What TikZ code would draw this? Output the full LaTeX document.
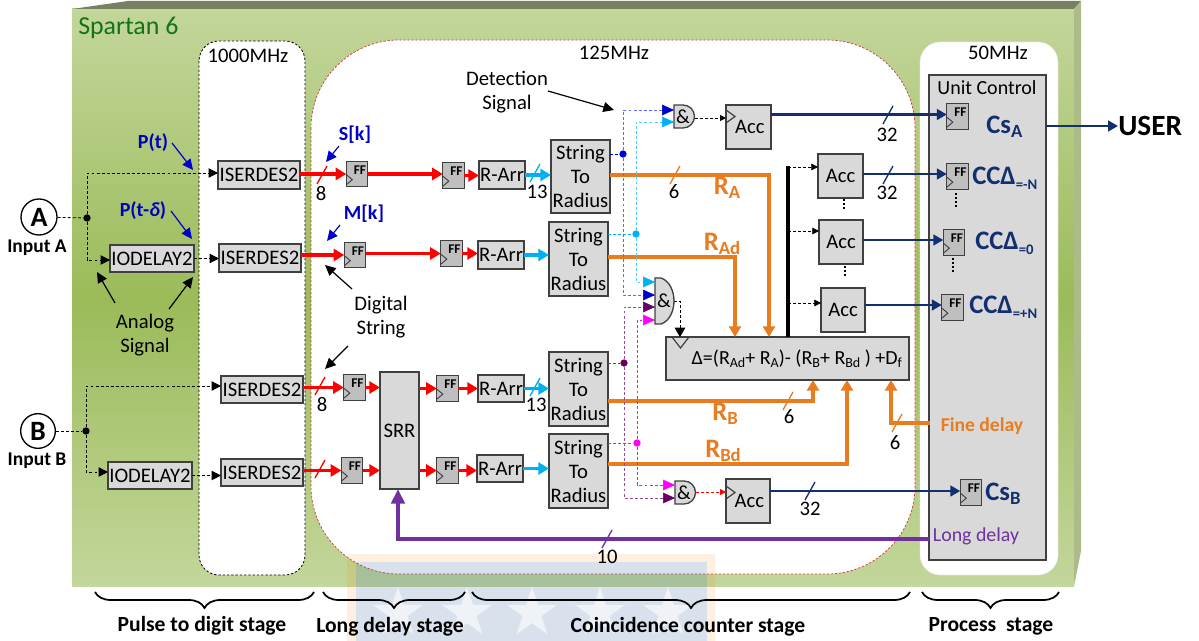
\documentclass[tikz,border=0pt]{standalone}
\usepackage{fontspec}
\setmainfont{Carlito}
\usetikzlibrary{arrows.meta,decorations.pathreplacing,shapes.geometric}
\definecolor{navyw}{HTML}{12306F}
\definecolor{orw}{HTML}{E97B20}
\definecolor{purw}{HTML}{7030A0}
\definecolor{cyw}{HTML}{00B0F0}
\definecolor{grn}{HTML}{9BBB59}
\definecolor{lgrn}{HTML}{C3D69B}
\definecolor{blu}{HTML}{0000CC}
\definecolor{pdot}{HTML}{660066}
\definecolor{mag}{HTML}{FF00FF}
\definecolor{bdr}{HTML}{404040}
\definecolor{wmb}{HTML}{416EA0}
\newcommand\fs[1]{\fontsize{#1}{#1}\selectfont}
\newcommand\sbt[2]{\raisebox{-#1pt}{#2}}
\tikzset{
  box/.style={draw=bdr,fill=gray!30,line width=1.1pt,inner sep=0pt,outer sep=0pt,align=center,font=\fontsize{15.5}{18}\selectfont},
  ffb/.style={draw=bdr,fill=gray!50,line width=0.9pt,inner sep=0pt,outer sep=0pt,minimum width=16pt,minimum height=19pt},
  fft/.style={inner sep=0pt,font=\bfseries\fontsize{10}{10}\selectfont,text=black},
  txt/.style={inner sep=0pt,align=center,font=\fontsize{15.5}{18}\selectfont},
  stg/.style={inner sep=0pt,font=\bfseries\fontsize{16.2}{18}\selectfont},
  bluetxt/.style={inner sep=0pt,text=blue!75!black,font=\bfseries\fontsize{15}{17}\selectfont},
  lab/.style={inner sep=0pt,font=\bfseries\fontsize{20}{22}\selectfont,text=orw},
  nav/.style={inner sep=0pt,anchor=west,font=\bfseries\fontsize{20}{22}\selectfont,text=navyw},
  num/.style={inner sep=0pt,font=\fontsize{15.5}{17}\selectfont},
  redw/.style={draw=red,line width=2.8pt,-{Triangle[length=8pt,width=9pt]}},
  cyanw/.style={draw=cyw,line width=2.8pt,-{Triangle[length=8pt,width=9pt]}},
  orng/.style={draw=orw,line width=2.6pt,line join=miter},
  orngarr/.style={orng,-{Triangle[length=8pt,width=9pt]}},
  navw/.style={draw=navyw,line width=2.1pt,-{Triangle[length=7.5pt,width=8pt]}},
  dsh/.style={line width=0.6pt,dash pattern=on 2.2pt off 1.6pt},
  darr/.style={dsh,-{Triangle[length=7pt,width=7pt]}},
  sarr/.style={line width=0.9pt,-{Triangle[length=8pt,width=7.5pt]}},
  dot/.style={circle,inner sep=0pt,minimum size=5.5pt,draw=none},
  slash/.style={line width=1pt},
  brc/.style={draw=black,line width=1.3pt,decorate,decoration={brace,mirror,amplitude=12pt,aspect=0.5}},
  andg/.style={draw=bdr,fill=gray!30,line width=1pt},
  clk/.style={draw=bdr,line width=0.7pt},
  vdots/.style={draw=black,line width=1.3pt,dash pattern=on 1.2pt off 1.9pt},
}
\newcommand\bx[6]{\node[box,minimum width={(#4-#2)*0.75pt},minimum height={(#5-#3)*0.75pt}] (#1) at ({(#2+#4)/2},{(#3+#5)/2}) {#6};}
\newcommand\ffx[3]{\node[ffb] (#1) at (#2,#3) {};
  \node[fft,xshift=2.2pt,yshift=3pt] (#1t) at (#1) {FF};
  \draw[clk] ([shift={(0,-12)}]#1.south west) -- ++(6,5) -- ++(-6,5);}
\newcommand\slsh[1]{\draw[slash] ([shift={(-5,9)}]#1) -- ([shift={(5,-9)}]#1);}
\begin{document}
\begin{tikzpicture}[x=0.75pt,y=-0.75pt]
\useasboundingbox (0,0) rectangle (1199,641);
% board
\fill[white] (0,0) rectangle (1199,641);
\shade[top color=lgrn,bottom color=grn] (72,9) rectangle (1074,300);
\shade[top color=grn,bottom color=lgrn] (72,299.5) rectangle (1074,586);
\fill[fill={rgb,255:red,119;green,128;blue,95}] (72,9) -- (128,1) -- (1081,1) -- (1074,9) -- cycle;
\fill[fill={rgb,255:red,173;green,187;blue,137}] (1074,9) -- (1081,1) -- (1081,551) -- (1074,586) -- cycle;
% panels
\draw[black,fill=white,line width=0.6pt,dash pattern=on 1.8pt off 1.4pt,rounded corners=15pt] (199,41) rectangle (305,575);
\draw[red!60!gray,fill=white,line width=0.5pt,dash pattern=on 1.8pt off 1.2pt,rounded corners=66pt] (311,40) rectangle (915,574);
\draw[white!90!black,fill=white,line width=0.5pt,dash pattern=on 1.8pt off 1.2pt,rounded corners=15pt] (920,42) rectangle (1058,575);
% watermark
\fill[orange,opacity=0.12,even odd rule] (347,554) rectangle (715,641) (356,562) rectangle (707,641);
\fill[wmb,opacity=0.20] (356,562) rectangle (707,641);
\foreach \sx in {398,467,532,600,668}{\node[star,star points=5,star point ratio=2.6,fill=white,opacity=0.6,minimum size=39pt,inner sep=0pt] at (\sx,613) {};}
% titles
\node[inner sep=0pt,anchor=west,text={rgb,255:red,20;green,115;blue,20},font=\fontsize{19.4}{22}\selectfont] (spartan) at (78,28) {Spartan 6};
\node[txt] (f1) at (248,56) {1000MHz};
\node[txt] (f2) at (614,53) {125MHz};
\node[txt] (f3) at (998,53) {50MHz};
% inputs
\node[circle,draw=black,line width=1pt,minimum size=27pt,inner sep=0pt,font=\bfseries\fontsize{21}{22}\selectfont,fill=white] (ina) at (39,217) {A};
\node[circle,draw=black,line width=1pt,minimum size=26pt,inner sep=0pt,font=\bfseries\fontsize{21}{22}\selectfont,fill=white] (inb) at (38,431) {B};
\node[inner sep=0pt,font=\bfseries\fontsize{14.6}{16}\selectfont] (ila) at (37,248) {Input A};
\node[inner sep=0pt,font=\bfseries\fontsize{14.6}{16}\selectfont] (ilb) at (37,461) {Input B};
% boxes
\bx{is1}{218}{161}{300}{189}{ISERDES2}
\bx{is2}{219}{244}{301}{272}{ISERDES2}
\bx{is3}{221}{376}{303}{403}{ISERDES2}
\bx{is4}{221}{459}{303}{486}{ISERDES2}
\bx{io1}{110}{245}{194}{272}{IODELAY2}
\bx{io2}{108}{462}{192}{489}{IODELAY2}
\bx{ra1}{479}{161}{525}{189}{R-Arr}
\bx{ra2}{478}{241}{524}{269}{R-Arr}
\bx{ra3}{478}{375}{524}{402}{R-Arr}
\bx{ra4}{477}{455}{523}{482}{R-Arr}
\bx{st1}{551}{140}{610}{213}{String\\To\\Radius}
\bx{st2}{549}{222}{608}{296}{String\\To\\Radius}
\bx{st3}{549}{352}{608}{426}{String\\To\\Radius}
\bx{st4}{549}{434}{608}{508}{String\\To\\Radius}
\bx{srr}{380}{372}{419}{489}{SRR}
\bx{ac1}{726}{105}{771}{149}{\raisebox{-5pt}{\hspace{2pt}Acc}}
\bx{ac2}{726}{479}{770}{523}{\raisebox{-5pt}{\hspace{2pt}Acc}}
\bx{ac3}{818}{154}{863}{198}{Acc}
\bx{ac4}{819}{220}{863}{264}{Acc}
\bx{ac5}{821}{288}{865}{332}{Acc}
\bx{dl}{666}{337}{909}{380}{\fs{15}\hspace{14pt}Δ=(R{\fs{10.5}\sbt{2}{Ad}}+ R{\fs{10.5}\sbt{2}{A}})- (R{\fs{10.5}\sbt{2}{B}}+ R{\fs{10.5}\sbt{2}{Bd}} ) +D{\fs{10.5}\sbt{2}{f}}}
\bx{uc}{929}{75}{1046}{560}{}
\node[txt,font=\fontsize{15}{18}\selectfont] (uct) at (987,88) {Unit Control};
% and gates
\draw[andg] (674,105) -- (683,105) arc (-90:90:11.5 and 11.5) -- (674,128) -- cycle;
\node[inner sep=0pt,font=\fontsize{15}{15}\selectfont] (and1) at (683,116.5) {\&};
\draw[andg] (655,278) -- (661,278) .. controls (670,281) and (674,292) .. (674,301) .. controls (674,310) and (670,321) .. (661,324) -- (655,324) -- cycle;
\node[inner sep=0pt,font=\fontsize{15}{15}\selectfont] (and2) at (664,301) {\&};
\draw[andg] (675,481) -- (684,481) arc (-90:90:11.5 and 11.5) -- (675,504) -- cycle;
\node[inner sep=0pt,font=\fontsize{15}{15}\selectfont] (and3) at (684,492.5) {\&};
\coordinate (a1o) at (695,118);
\coordinate (a1i) at (674,110);
\coordinate (a1j) at (674,122);
\coordinate (a2o) at (674,301);
\coordinate (a3o) at (696,492);
% ffs
\ffx{f1a}{357}{174}\ffx{f1b}{355}{255}\ffx{f1c}{354.5}{387.5}\ffx{f1d}{352}{470.5}
\ffx{f2a}{453.5}{175.5}\ffx{f2b}{451.5}{253.5}\ffx{f2c}{447.5}{388.5}\ffx{f2d}{447.5}{470.5}
\ffx{fua}{957.5}{116.5}\ffx{fun}{957.5}{176.5}\ffx{fu0}{954}{242.5}\ffx{fup}{952.5}{307.5}\ffx{fub}{971}{492.5}
% dashed input nets
\node[dot,fill=black] (ja) at (87,218) {};
\node[dot,fill=black] (jb) at (86,431) {};
\coordinate (ja1) at (87,173);\coordinate (ja2) at (87,260);
\coordinate (jb1) at (86,386);\coordinate (jb2) at (86,472);
\draw[dsh] (ina) -- (ja);
\draw[dsh] (inb) -- (jb);
\draw[darr] (ja) -- (ja1) -- (ja1 -| is1.west);
\draw[darr] (ja) -- (ja2) -- (ja2 -| io1.west);
\draw[darr] (jb) -- (jb1) -- (jb1 -| is3.west);
\draw[darr] (jb) -- (jb2) -- (jb2 -| io2.west);
\draw[darr] (io1.east) -- (io1.east -| is2.west);
\draw[darr] (io2.east) -- (io2.east -| is4.west);
% red wires
\draw[redw] (is1.east |- f1a.west) -- (f1a.west);
\draw[redw] (f1a.east) -- (f1a.east -| f2a.west);
\draw[redw] (f2a.east) -- (f2a.east -| ra1.west);
\draw[redw] (is2.east |- f1b.west) -- (f1b.west);
\draw[redw] (f1b.east |- f2b.west) -- (f2b.west);
\draw[redw] (f2b.east) -- (f2b.east -| ra2.west);
\draw[redw] (is3.east |- f1c.west) -- (f1c.west);
\draw[redw] (f1c.east) -- (srr.west |- f1c.east);
\draw[redw] (srr.east |- f2c.west) -- (f2c.west);
\draw[redw] (f2c.east) -- (f2c.east -| ra3.west);
\draw[redw] (is4.east |- f1d.west) -- (f1d.west);
\draw[redw] (f1d.east) -- (srr.west |- f1d.east);
\draw[redw] (srr.east |- f2d.west) -- (f2d.west);
\draw[redw] (f2d.east) -- (f2d.east -| ra4.west);
% cyan
\draw[cyanw] (ra1.east) -- (ra1.east -| st1.west);
\draw[cyanw] (ra2.east) -- (ra2.east -| st2.west);
\draw[cyanw] (ra3.east) -- (ra3.east -| st3.west);
\draw[cyanw] (ra4.east) -- (ra4.east -| st4.west);
% orange
\coordinate (c1) at (769,175);\coordinate (c2) at (735,257);\coordinate (c3) at (813,401);\coordinate (c4) at (847,464);\coordinate (c5) at (891,423);
\draw[orngarr] (c1 -| st1.east) -- (c1) -- (c1 |- dl.north);
\draw[orngarr] (c2 -| st2.east) -- (c2) -- (c2 |- dl.north);
\draw[orngarr] (c3 -| st3.east) -- (c3) -- (c3 |- dl.south);
\draw[orngarr] (c4 -| st4.east) -- (c4) -- (c4 |- dl.south);
\coordinate (fd) at (930,423);
\draw[orngarr] (fd) -- (c5) -- (c5 |- dl.south);
% purple
\coordinate (p1) at (398,539);
\draw[draw=purw,line width=3pt,-{Triangle[length=11pt,width=10pt]}] (uc.west |- p1) -- (p1) -- (srr.south -| p1);
% navy
\coordinate (ny1) at (0,114.5);\coordinate (ny2) at (0,174);\coordinate (ny3) at (0,240);\coordinate (ny4) at (0,305);\coordinate (ny5) at (0,491);
\draw[navw] (ac1.east |- ny1) -- (fua.west |- ny1);
\draw[navw] (ac3.east |- ny2) -- (fun.west |- ny2);
\draw[navw] (ac4.east |- ny3) -- (fu0.west |- ny3);
\draw[navw] (ac5.east |- ny4) -- (fup.west |- ny4);
\draw[navw] (ac2.east |- ny5) -- (fub.west |- ny5);
\node[inner sep=0pt,font=\bfseries\fontsize{22}{24}\selectfont,anchor=west] (user) at (1118,126) {USER};
\draw[navw] (uc.east |- user.west) -- (user.west);
% bus
\coordinate (bs) at (788,166);
\draw[line width=3.5pt,black] (bs) -- (bs |- dl.north);
\coordinate (b3) at (788,167);\coordinate (b4) at (788,231);\coordinate (b5) at (788,303);
\draw[dsh,-{Triangle[length=5pt,width=5pt]}] (b3) -- (b3 -| ac3.west);
\draw[dsh,-{Triangle[length=5pt,width=5pt]}] (b4) -- (b4 -| ac4.west);
\draw[dsh,-{Triangle[length=5pt,width=5pt]}] (b5) -- (b5 -| ac5.west);
% detection nets
\node[dot,fill=blu] (db) at (623,154) {};
\node[dot,fill=cyw] (dc) at (636,234) {};
\node[dot,fill=pdot] (dp) at (624,363) {};
\node[dot,fill=mag] (dm) at (637,443) {};
\draw[dsh,blu] (st1.east |- db) -- (db);
\draw[dsh,cyw] (st2.east |- dc) -- (dc);
\draw[dsh,pdot!80!white] (st3.east |- dp) -- (dp);
\draw[dsh,mag] (st4.east |- dm) -- (dm);
\coordinate (n1) at (623,110);\coordinate (n2) at (623,295);
\coordinate (n3) at (636,122);\coordinate (n4) at (636,282);
\coordinate (n5) at (624,307);\coordinate (n6) at (624,498);
\coordinate (n7) at (637,320);\coordinate (n8) at (637,485);
\coordinate (g1) at (655,282);\coordinate (g2) at (655,295);\coordinate (g3) at (655,307);\coordinate (g4) at (655,320);
\coordinate (g5) at (675,485);\coordinate (g6) at (675,498);
\draw[dsh,blue!60!white] (db) -- (n1) -- (a1i);
\draw[dsh,blue!60!white] (db) -- (n2) -- (g2);
\draw[dsh,cyw!70!white] (dc) -- (n3) -- (a1j);
\draw[dsh,cyw!70!white] (dc) -- (n4) -- (g1);
\draw[dsh,pdot!70!white] (dp) -- (n5) -- (g3);
\draw[dsh,pdot!70!white] (dp) -- (n6) -- (g6);
\draw[dsh,mag] (dm) -- (n7) -- (g4);
\draw[dsh,mag] (dm) -- (n8) -- (g5);
\draw[-{Triangle[length=9pt,width=8pt]},blu] ([xshift=-8pt]a1i) -- (a1i);
\draw[-{Triangle[length=9pt,width=8pt]},cyw] ([xshift=-8pt]a1j) -- (a1j);
\draw[-{Triangle[length=9pt,width=8pt]},cyw] ([xshift=-8pt]g1) -- (g1);
\draw[-{Triangle[length=9pt,width=8pt]},blu] ([xshift=-8pt]g2) -- (g2);
\draw[-{Triangle[length=9pt,width=8pt]},pdot] ([xshift=-8pt]g3) -- (g3);
\draw[-{Triangle[length=9pt,width=8pt]},mag] ([xshift=-8pt]g4) -- (g4);
\draw[-{Triangle[length=9pt,width=8pt]},mag] ([xshift=-8pt]g5) -- (g5);
\draw[-{Triangle[length=9pt,width=8pt]},pdot] ([xshift=-8pt]g6) -- (g6);
% and outputs
\draw[dsh,-{Triangle[length=4.5pt,width=4.5pt]}] (a1o) -- (a1o -| ac1.west);
\draw[dsh,red,-{Triangle[length=4.5pt,width=4.5pt]}] (a3o) -- (a3o -| ac2.west);
\coordinate (d1) at (680,301);
\draw[dsh,-{Triangle[length=7pt,width=8pt]}] (a2o) -- (d1) -- (d1 |- dl.north);
% clocks
\draw[clk,line width=0.9pt] ([shift={(0,5)}]ac1.north west) -- ++(9,6.5) -- ++(-9,6.5);
\draw[clk,line width=0.9pt] ([shift={(0,7)}]ac2.north west) -- ++(9,6.5) -- ++(-9,6.5);
\draw[clk,line width=0.9pt] (672,337) -- (680.5,348) -- (689,337);
% vertical dots
\coordinate (vd1) at (844,199);\coordinate (vd2) at (845,266);\coordinate (vd3) at (956,193);\coordinate (vd4) at (953,258);
\draw[vdots] (vd1) -- ++(0,10);
\draw[vdots] (vd2) -- ++(0,10);
\draw[vdots] (vd3) -- ++(0,16);
\draw[vdots] (vd4) -- ++(0,16);
% bus slashes
\coordinate (s1) at (322,175);\coordinate (s2) at (320,386);\coordinate (s3) at (320,469);
\coordinate (s4) at (535,173);\coordinate (s5) at (535,387);
\coordinate (s6) at (675,175);\coordinate (s7) at (788,401);\coordinate (s8) at (897,423);
\coordinate (s9) at (607,539);\coordinate (s10) at (888,115);\coordinate (s11) at (888,175);\coordinate (s12) at (810,491);
\begin{scope}[red]\slsh{s1}\slsh{s2}\slsh{s3}\end{scope}
\begin{scope}[cyw]\slsh{s4}\slsh{s5}\end{scope}
\begin{scope}[orw]\slsh{s6}\slsh{s7}\slsh{s8}\end{scope}
\begin{scope}[purw]\slsh{s9}\end{scope}
\begin{scope}[navyw]\slsh{s10}\slsh{s11}\slsh{s12}\end{scope}
% numbers
\node[num] (n8a) at (321,194) {8};
\node[num] (n8b) at (322,405) {8};
\node[num] (n13a) at (537,192) {13};
\node[num] (n13b) at (536,405) {13};
\node[num] (n6a) at (674,192) {6};
\node[num] (n6b) at (789,417) {6};
\node[num] (n6c) at (895,443) {6};
\node[num] (n10) at (607,557) {10};
\node[num] (n32a) at (887,135) {32};
\node[num] (n32b) at (887,193) {32};
\node[num] (n32c) at (810,509) {32};
% coloured labels
\node[lab] (la) at (727,188) {R\sbt{3}{\fs{14}A}};
\node[lab] (lad) at (722,244) {R\sbt{3}{\fs{14}Ad}};
\node[lab] (lb) at (725,414) {R\sbt{3}{\fs{14}B}};
\node[lab] (lbd) at (723,451) {R\sbt{3}{\fs{14}Bd}};
\node[inner sep=0pt,text=orw,font=\bfseries\fontsize{14.7}{17}\selectfont] (lfd) at (982,426) {Fine delay};
\node[inner sep=0pt,text=purw,font=\fontsize{14.9}{17}\selectfont] (lld) at (976,536) {Long delay};
\node[nav] (ca) at (986,127) {Cs\sbt{3}{\fs{14}A}};
\node[nav] (cn) at (972,178) {CCΔ\sbt{4}{\fs{11}=-N}};
\node[nav] (c0) at (975,243) {CCΔ\sbt{4}{\fs{11}=0}};
\node[nav] (cp) at (969,307) {CCΔ\sbt{4}{\fs{11}=+N}};
\node[nav] (cb) at (985,494) {Cs\sbt{3}{\fs{14}B}};
% annotations
\node[bluetxt] (pt) at (153,143) {P(t)};
\node[bluetxt] (ptd) at (143,211) {P(t-\textit{δ})};
\node[bluetxt] (sk) at (355,135) {S[k]};
\node[bluetxt] (mk) at (364,214) {M[k]};
\coordinate (pa1) at (172,143);\coordinate (pa2) at (193,170);
\coordinate (pb1) at (171,211);\coordinate (pb2) at (192,239);
\coordinate (sa1) at (339,146);\coordinate (sa2) at (326,162);
\coordinate (ma1) at (340,225);\coordinate (ma2) at (327,241);
\draw[sarr,blue!80!black] (pa1) -- (pa2);
\draw[sarr,blue!80!black] (pb1) -- (pb2);
\draw[sarr,blue!80!black] (sa1) -- (sa2);
\draw[sarr,blue!80!black] (ma1) -- (ma2);
\node[txt] (an) at (145,335) {Analog\\Signal};
\coordinate (aa1) at (115,303);\coordinate (aa2) at (97,272);
\coordinate (ab1) at (169,309);\coordinate (ab2) at (193,277);
\draw[sarr] (aa1) -- (aa2);
\draw[sarr] (ab1) -- (ab2);
\node[txt] (ds) at (381,317.5) {Digital\\String};
\coordinate (da1) at (352,289);\coordinate (da2) at (325,265);
\coordinate (db1) at (348,346);\coordinate (db2) at (325,369);
\draw[sarr] (da1) -- (da2);
\draw[sarr] (db1) -- (db2);
\node[txt] (det) at (507,92) {Detection\\Signal};
\coordinate (de1) at (548,91);\coordinate (de2) at (614,110);
\draw[sarr] (de1) -- (de2);
% braces
\coordinate (br1a) at (95,592);\coordinate (br1b) at (314,592);
\coordinate (br2a) at (323,592);\coordinate (br2b) at (465,592);
\coordinate (br3a) at (472,592);\coordinate (br3b) at (910,592);
\coordinate (br4a) at (922,592);\coordinate (br4b) at (1059,592);
\draw[brc] (br1a) -- (br1b);
\draw[brc] (br2a) -- (br2b);
\draw[brc] (br3a) -- (br3b);
\draw[brc] (br4a) -- (br4b);
\node[stg] (t1) at (202,626) {Pulse to digit stage};
\node[stg] (t2) at (390,627) {Long delay stage};
\node[stg] (t3) at (688,627) {Coincidence counter stage};
\node[stg] (t4) at (991,626) {Process\ \ stage};
\end{tikzpicture}
\end{document}
